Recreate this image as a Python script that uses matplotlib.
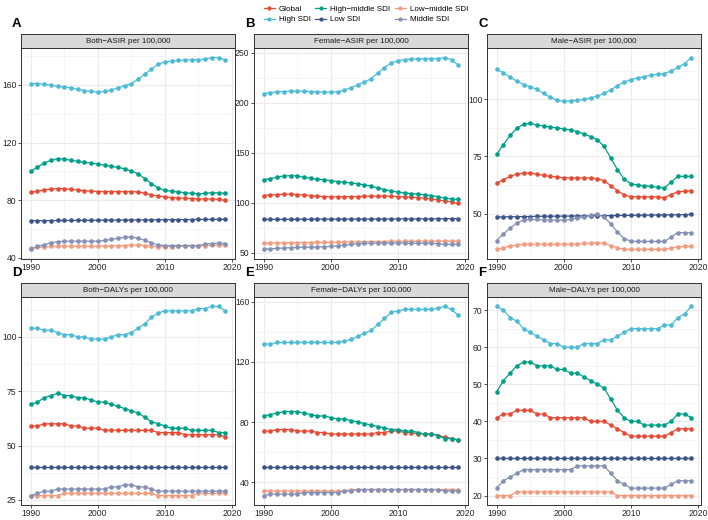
import numpy as np
import matplotlib
matplotlib.use("Agg")
import matplotlib.pyplot as plt
from matplotlib.lines import Line2D

plt.rcParams['font.family'] = ['Liberation Sans', 'DejaVu Sans']

# dados
years = list(range(1990, 2020))
groups = ['Global', 'High SDI', 'High\u2212middle SDI', 'Low SDI', 'Low\u2212middle SDI', 'Middle SDI']
colors = ['#E64B35', '#4DBBD5', '#00A087', '#3C5488', '#F39B7F', '#8491B4']

titles = ['Both\u2212ASIR per 100,000', 'Female\u2212ASIR per 100,000', 'Male\u2212ASIR per 100,000',
          'Both\u2212DALYs per 100,000', 'Female\u2212DALYs per 100,000', 'Male\u2212DALYs per 100,000']
letters = ['A', 'B', 'C', 'D', 'E', 'F']

# A - Both ASIR
global_a = [85.5, 86.2, 87.1, 87.8, 88.0, 88.0, 87.5, 87.1, 86.6, 86.2, 86.0, 86.0, 86.0, 86.0, 86.0,
            86.0, 85.7, 84.8, 83.6, 82.9, 82.2, 81.8, 81.5, 81.3, 81.1, 80.8, 80.8, 80.8, 80.6, 79.9]
high_a = [161, 161, 160.5, 160, 159, 158.5, 158, 157, 156, 155.5, 155, 155.5, 156.5, 158, 159.5,
          161, 164, 167.5, 171, 174.5, 176, 176.5, 177, 177.3, 177.5, 177.5, 178, 179, 179, 177.3]
hm_a = [100, 103, 105.8, 107.6, 108.8, 108.5, 107.6, 107, 106.2, 105.8, 105, 104.4, 103.5, 102.8, 101.8,
        100.2, 98.4, 95, 91.5, 88.5, 86.8, 86.2, 85.7, 85.2, 84.8, 84.3, 84.8, 85.2, 85, 84.8]
low_a = [65.8, 65.8, 65.8, 65.8, 65.9, 65.9, 65.9, 66.0, 66.0, 66.0, 66.1, 66.1, 66.1, 66.2, 66.2,
         66.2, 66.3, 66.3, 66.3, 66.4, 66.4, 66.4, 66.5, 66.5, 66.5, 66.6, 66.6, 66.6, 66.7, 66.7]
lm_a = [46.5, 47.2, 47.4, 47.9, 48.0, 48.1, 48.1, 48.1, 48.1, 48.1, 48.1, 48.1, 48.2, 48.3, 48.5,
        48.8, 48.8, 48.5, 48.1, 47.6, 47.8, 47.8, 47.9, 48.0, 48.1, 48.3, 48.4, 48.6, 48.8, 48.8]
mid_a = [45.8, 48.0, 49.0, 50.4, 51.1, 51.5, 51.5, 51.5, 51.5, 51.5, 51.5, 52.0, 52.7, 53.6, 54.3,
         54.5, 53.6, 52.2, 50.4, 48.8, 48.5, 48.5, 48.5, 48.5, 48.5, 48.5, 49.5, 49.9, 50.1, 49.9]

# B - Female ASIR
global_b = [107.1, 107.8, 108.1, 108.5, 108.5, 108.1, 107.8, 107.1, 106.5, 106.1, 105.8, 105.8, 105.8, 106.1, 106.1,
            106.5, 106.5, 106.5, 106.5, 106.5, 106.1, 105.8, 105.5, 105.1, 104.5, 103.8, 102.8, 101.8, 100.8, 99.2]
high_b = [208.8, 210, 210.8, 211, 211.5, 211.5, 211.5, 211, 210.8, 210.5, 210.5, 210.8, 212.5, 215, 217.8,
          220.4, 224, 229.4, 235, 239.7, 242, 243, 243.4, 243.7, 244, 244, 244, 245, 243, 237.4]
hm_b = [122.8, 124, 125.6, 126.7, 127, 126.7, 125.4, 124.4, 123.4, 122.8, 122.1, 121.1, 120.4, 119.8, 118.8,
        117.8, 116.4, 114.8, 113.1, 111.8, 110.5, 109.8, 109.1, 108.5, 107.8, 107.1, 105.8, 104.5, 103.8, 103.2]
low_b = [83.3, 83.3, 83.3, 83.3, 83.4, 83.4, 83.4, 83.4, 83.5, 83.5, 83.5, 83.5, 83.6, 83.6, 83.6,
         83.6, 83.7, 83.7, 83.7, 83.7, 83.8, 83.8, 83.8, 83.8, 83.9, 83.9, 83.9, 84.0, 84.0, 84.0]
lm_b = [59.3, 59.5, 60.0, 60.0, 60.1, 60.1, 60.2, 60.2, 60.3, 60.3, 60.4, 60.5, 60.6, 60.8, 61.0,
        61.1, 61.2, 61.2, 61.2, 61.3, 61.3, 61.3, 61.4, 61.4, 61.5, 61.5, 61.6, 61.6, 61.6, 61.6]
mid_b = [53.3, 54.0, 54.3, 54.7, 55.0, 55.3, 55.3, 55.6, 55.6, 56.0, 56.3, 57.0, 57.6, 58.3, 59.0,
         59.3, 59.6, 59.6, 59.6, 59.6, 59.6, 59.5, 59.5, 59.4, 59.4, 59.3, 59.0, 58.3, 58.3, 58.3]

# C - Male ASIR
global_c = [63.4, 64.8, 66.3, 67.3, 67.7, 67.7, 67.3, 66.7, 66.3, 66.0, 65.7, 65.6, 65.6, 65.6, 65.6,
            65.3, 64.4, 62.2, 60.0, 58.1, 57.4, 57.3, 57.3, 57.3, 57.3, 57.0, 58.3, 59.6, 59.7, 60.0]
high_c = [113.2, 111.6, 109.7, 108.0, 106.5, 105.5, 104.4, 102.6, 100.9, 99.6, 99.1, 99.3, 99.6, 100.0, 100.6,
          101.5, 102.6, 104.2, 106.0, 107.6, 108.7, 109.4, 110.0, 110.6, 111.0, 111.3, 112.4, 114.0, 115.7, 118.3]
hm_c = [76.0, 80.2, 84.2, 87.4, 89.1, 89.5, 88.8, 88.4, 87.8, 87.5, 87.1, 86.6, 85.9, 84.9, 83.7,
        82.3, 79.4, 74.3, 69.2, 65.1, 63.1, 62.5, 62.2, 61.9, 61.5, 61.2, 63.8, 66.3, 66.3, 66.3]
low_c = [48.5, 48.5, 48.6, 48.6, 48.7, 48.7, 48.8, 48.8, 48.8, 48.9, 48.9, 48.9, 49.0, 49.0, 49.0,
         49.1, 49.1, 49.1, 49.2, 49.2, 49.2, 49.3, 49.3, 49.3, 49.4, 49.4, 49.4, 49.5, 49.5, 49.6]
lm_c = [34.3, 35.0, 35.8, 36.2, 36.5, 36.6, 36.6, 36.6, 36.6, 36.6, 36.6, 36.6, 36.6, 36.9, 37.0,
        37.2, 36.9, 36.0, 35.0, 34.4, 34.3, 34.3, 34.3, 34.3, 34.3, 34.3, 34.9, 35.5, 35.6, 35.6]
mid_c = [38.2, 41.1, 43.7, 45.9, 47.2, 47.4, 47.4, 47.2, 47.2, 47.1, 47.1, 47.4, 48.0, 48.5, 49.3,
         49.7, 48.5, 45.5, 41.9, 39.0, 37.9, 37.8, 37.8, 37.8, 37.8, 37.8, 39.7, 41.7, 41.6, 41.6]

# D - Both DALYs
global_d = [59, 59, 60, 60, 60, 60, 59, 59, 58, 58, 58, 57, 57, 57, 57,
            57, 57, 57, 57, 56, 56, 56, 56, 55, 55, 55, 55, 55, 55, 54]
high_d = [104, 104, 103, 103, 102, 101, 101, 100, 100, 99, 99, 99, 100, 101, 101,
          102, 104, 106, 109, 111, 112, 112, 112, 112, 112, 113, 113, 114, 114, 112]
hm_d = [69, 70, 72, 73, 74, 73, 73, 72, 72, 71, 70, 70, 69, 68, 67,
        66, 65, 63, 61, 60, 59, 58, 58, 58, 57, 57, 57, 57, 56, 56]
low_d = [40, 40, 40, 40, 40, 40, 40, 40, 40, 40, 40, 40, 40, 40, 40,
         40, 40, 40, 40, 40, 40, 40, 40, 40, 40, 40, 40, 40, 40, 40]
lm_d = [27, 27, 27, 27, 27, 28, 28, 28, 28, 28, 28, 28, 28, 28, 28,
        28, 28, 28, 28, 27, 27, 27, 27, 27, 27, 28, 28, 28, 28, 28]
mid_d = [27, 28, 29, 29, 30, 30, 30, 30, 30, 30, 30, 30, 31, 31, 32,
         32, 31, 31, 30, 29, 29, 29, 29, 29, 29, 29, 29, 29, 29, 29]

# E - Female DALYs
global_e = [74, 74, 75, 75, 75, 74, 74, 74, 73, 73, 72, 72, 72, 72, 72,
            72, 72, 73, 73, 74, 74, 73, 73, 72, 72, 72, 71, 70, 69, 68]
high_e = [132, 132, 133, 133, 133, 133, 133, 133, 133, 133, 133, 133, 134, 135, 137,
          139, 141, 145, 149, 153, 154, 155, 155, 155, 155, 155, 156, 157, 155, 151]
hm_e = [84, 85, 86, 87, 87, 87, 86, 85, 84, 84, 83, 82, 82, 81, 80,
        79, 78, 77, 76, 75, 75, 74, 74, 73, 72, 72, 71, 69, 69, 68]
low_e = [50, 50, 50, 50, 50, 50, 50, 50, 50, 50, 50, 50, 50, 50, 50,
         50, 50, 50, 50, 50, 50, 50, 50, 50, 50, 50, 50, 50, 50, 50]
lm_e = [34, 34, 34, 34, 34, 34, 34, 34, 34, 34, 34, 34, 34, 35, 35,
        35, 35, 35, 35, 35, 35, 35, 35, 35, 35, 35, 35, 35, 35, 35]
mid_e = [31, 32, 32, 32, 32, 32, 33, 33, 33, 33, 33, 33, 34, 34, 35,
         35, 35, 35, 35, 35, 35, 35, 35, 35, 35, 35, 35, 34, 34, 34]

# F - Male DALYs
global_f = [41, 42, 42, 43, 43, 43, 42, 42, 41, 41, 41, 41, 41, 41, 40,
            40, 40, 39, 38, 37, 36, 36, 36, 36, 36, 36, 37, 38, 38, 38]
high_f = [71, 70, 68, 67, 65, 64, 63, 62, 61, 61, 60, 60, 60, 61, 61,
          61, 62, 62, 63, 64, 65, 65, 65, 65, 65, 66, 66, 68, 69, 71]
hm_f = [48, 51, 53, 55, 56, 56, 55, 55, 55, 54, 54, 53, 53, 52, 51,
        50, 49, 46, 43, 41, 40, 40, 39, 39, 39, 39, 40, 42, 42, 41]
low_f = [30, 30, 30, 30, 30, 30, 30, 30, 30, 30, 30, 30, 30, 30, 30,
         30, 30, 30, 30, 30, 30, 30, 30, 30, 30, 30, 30, 30, 30, 30]
lm_f = [20, 20, 20, 21, 21, 21, 21, 21, 21, 21, 21, 21, 21, 21, 21,
        21, 21, 21, 20, 20, 20, 20, 20, 20, 20, 20, 20, 20, 20, 20]
mid_f = [22, 24, 25, 26, 27, 27, 27, 27, 27, 27, 27, 27, 28, 28, 28,
         28, 28, 26, 24, 23, 22, 22, 22, 22, 22, 22, 23, 24, 24, 24]

panels = [
    [global_a, high_a, hm_a, low_a, lm_a, mid_a],
    [global_b, high_b, hm_b, low_b, lm_b, mid_b],
    [global_c, high_c, hm_c, low_c, lm_c, mid_c],
    [global_d, high_d, hm_d, low_d, lm_d, mid_d],
    [global_e, high_e, hm_e, low_e, lm_e, mid_e],
    [global_f, high_f, hm_f, low_f, lm_f, mid_f],
]
yticks = [[40, 80, 120, 160], [50, 100, 150, 200, 250], [50, 75, 100],
          [25, 50, 75, 100], [40, 80, 120, 160], [20, 30, 40, 50, 60, 70]]
xticks = [1990, 2000, 2010, 2020]

W, H = 708, 520
fig = plt.figure(figsize=(W / 100, H / 100), dpi=100)

lefts = [21, 254, 487]
pw = 214
rows = [(48, 259), (297, 505)]   # topo e base em pixels
strip_h = 14

def fx(px):
    return px / W

def fy(py):
    return 1 - py / H

def minors(major, lo, hi):
    step = major[1] - major[0]
    cand = [m - step / 2 for m in major] + [major[-1] + step / 2]
    return [c for c in cand if lo <= c <= hi]

for i, series in enumerate(panels):
    r, c = divmod(i, 3)
    top, bot = rows[r]
    ax = fig.add_axes([fx(lefts[c]), fy(bot), fx(pw), (bot - top) / H])
    for k, vals in enumerate(series):
        ax.plot(years, vals, color=colors[k], lw=0.9, marker='o', ms=3.3,
                markeredgewidth=0, zorder=3)
    allv = np.concatenate([np.asarray(s, float) for s in series])
    lo, hi = allv.min(), allv.max()
    pad = 0.05 * (hi - lo)
    ax.set_ylim(lo - pad, hi + pad)
    ax.set_xlim(1990 - 0.05 * 29, 2019 + 0.05 * 29)
    ax.set_yticks(yticks[i])
    ax.set_xticks(xticks)
    ax.set_yticks(minors(yticks[i], lo - pad, hi + pad), minor=True)
    ax.set_xticks([1995, 2005, 2015], minor=True)
    ax.grid(True, which='major', color='#EBEBEB', lw=0.8, zorder=0)
    ax.grid(True, which='minor', color='#F2F2F2', lw=0.5, zorder=0)
    ax.tick_params(which='minor', length=0)
    ax.tick_params(which='major', length=2.2, width=0.6, color='#333333',
                   labelsize=6.2, labelcolor='#262626', pad=1.0)
    for sp in ax.spines.values():
        sp.set_color('#333333')
        sp.set_linewidth(0.7)
    ax.set_axisbelow(True)

    # faixa do título (strip)
    sax = fig.add_axes([fx(lefts[c]), fy(top), fx(pw), strip_h / H])
    sax.set_facecolor('#D9D9D9')
    sax.set_xticks([])
    sax.set_yticks([])
    for sp in sax.spines.values():
        sp.set_color('#333333')
        sp.set_linewidth(0.7)
    sax.text(0.5, 0.48, titles[i], ha='center', va='center', fontsize=5.8,
             color='#1A1A1A', transform=sax.transAxes)

    fig.text(fx(lefts[c] - 9), fy(top - strip_h - 10), letters[i], fontsize=9.5,
             fontweight='bold', ha='left', va='center')

handles = [Line2D([0], [0], color=col, lw=0.9, marker='o', ms=3.0, markeredgewidth=0)
           for col in colors]
fig.legend(handles, groups, loc='upper center', bbox_to_anchor=(fx(366), fy(0)),
           ncol=3, frameon=False, fontsize=5.8, handlelength=1.4, handletextpad=0.5,
           columnspacing=0.5, labelspacing=0.3, borderpad=0.2)

fig.savefig('out.png', dpi=100)
